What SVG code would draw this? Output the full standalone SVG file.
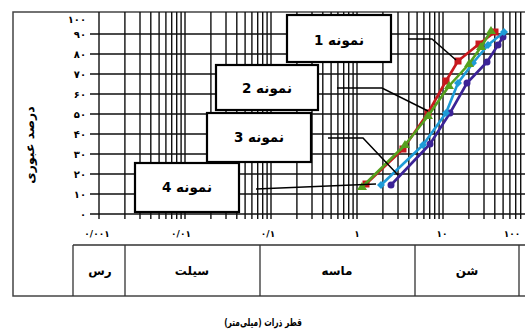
<svg xmlns="http://www.w3.org/2000/svg" width="525" height="331" viewBox="0 0 525 331">
<style>
.grid{stroke:#111;stroke-width:1.4;fill:none}
.frame{stroke:#444;stroke-width:1.5;fill:none}
.tbl{stroke:#333;stroke-width:1.3;fill:none}
.box{fill:#fff;stroke:#000;stroke-width:2.2}
.lead{stroke:#000;stroke-width:1.5;fill:none}
.t{font-family:"DejaVu Sans",sans-serif;font-weight:bold;fill:#000}
.yl{font-size:10px;text-anchor:end}
.xl{font-size:9px;text-anchor:middle}
.bl{font-size:13.5px;text-anchor:middle}
.cl{font-size:12px;text-anchor:middle}
.s{fill:none;stroke-width:2.6;stroke-linejoin:round}
</style>
<rect width="525" height="331" fill="#fff"/>
<rect class="frame" x="13" y="12" width="530" height="284"/>
<g id="grid">
<path class="grid" d="M99 12V219M124.9 12V219M140 12V219M150.8 12V219M159.1 12V219M165.9 12V219M171.7 12V219M176.7 12V219M181.1 12V219
M185 12V219M210.9 12V219M226 12V219M236.8 12V219M245.1 12V219M251.9 12V219M257.7 12V219M262.7 12V219M267.1 12V219
M271 12V219M296.9 12V219M312 12V219M322.8 12V219M331.1 12V219M337.9 12V219M343.7 12V219M348.7 12V219M353.1 12V219
M357 12V219M382.9 12V219M398 12V219M408.8 12V219M417.1 12V219M423.9 12V219M429.7 12V219M434.7 12V219M439.1 12V219
M443 12V219M468.9 12V219M484 12V219M494.8 12V219M503.1 12V219M509.9 12V219M515.7 12V219M520.7 12V219"/>
<path class="grid" d="M90 214H525M90 194H525M90 174H525M90 154H525M90 134H525M90 114H525M90 94H525M90 74H525M90 54H525M90 34H525"/>
</g>
<g id="yticks" class="t yl">
<text x="86" y="23">۱۰۰</text>
<text x="86" y="38">۹۰</text>
<text x="86" y="58">۸۰</text>
<text x="86" y="78">۷۰</text>
<text x="86" y="98">۶۰</text>
<text x="86" y="118">۵۰</text>
<text x="86" y="138">۴۰</text>
<text x="86" y="158">۳۰</text>
<text x="86" y="178">۲۰</text>
<text x="86" y="198">۱۰</text>
<text x="86" y="218">۰</text>
</g>
<g id="xticks" class="t xl">
<text x="97" y="237">۰/۰۰۱</text>
<text x="181" y="237">۰/۰۱</text>
<text x="268" y="237">۰/۱</text>
<text x="357" y="237">۱</text>
<text x="442" y="237">۱۰</text>
<text x="512" y="237">۱۰۰</text>
</g>
<text class="t" font-size="12.5" text-anchor="middle" transform="translate(34 145) rotate(-90)">درصد عبوری</text>
<g id="table">
<path class="tbl" d="M73 245H525M73 245V296M125 245V296M260 245V296M415 245V296M519 245V296"/>
<text class="t cl" x="100" y="275">رس</text>
<text class="t cl" x="192" y="275">سیلت</text>
<text class="t cl" x="337" y="275">ماسه</text>
<text class="t cl" x="467" y="275">شن</text>
</g>
<text class="t" font-size="11" text-anchor="middle" direction="rtl" transform="translate(263 326) scale(0.68 1)">قطر ذرات (میلی‌متر)</text>
<g id="series">
<g id="s4">
<polyline class="s" stroke="#3b2396" points="391,185 430,144 450,113 467,83 487,62 498,45 503,37"/>
<g fill="#3b2396"><circle cx="391" cy="185" r="3.5"/><circle cx="430" cy="144" r="3.5"/><circle cx="450" cy="113" r="3.5"/><circle cx="467" cy="83" r="3.5"/><circle cx="487" cy="62" r="3.5"/><circle cx="498" cy="45" r="3.5"/><circle cx="503" cy="37" r="3.5"/></g>
</g>
<g id="s3">
<polyline class="s" stroke="#1e9bd7" points="381,185 423,145 446,113 458,83 473,63 488,45 504,32"/>
<g fill="#1e9bd7"><path d="M381 181l4 4-4 4-4-4z"/><path d="M423 141l4 4-4 4-4-4z"/><path d="M446 109l4 4-4 4-4-4z"/><path d="M458 79l4 4-4 4-4-4z"/><path d="M473 59l4 4-4 4-4-4z"/><path d="M488 41l4 4-4 4-4-4z"/><path d="M504 28l4 4-4 4-4-4z"/></g>
</g>
<g id="s1">
<polyline class="s" stroke="#c8191e" points="366,184 403,149 428,113 446,81 458,61 479,44 495,32"/>
<g fill="#c8191e"><rect x="362.5" y="180.5" width="7" height="7"/><rect x="399.5" y="145.5" width="7" height="7"/><rect x="424.5" y="109.5" width="7" height="7"/><rect x="442.5" y="77.5" width="7" height="7"/><rect x="454.5" y="57.5" width="7" height="7"/><rect x="475.5" y="40.5" width="7" height="7"/><rect x="491.5" y="28.5" width="7" height="7"/></g>
</g>
<g id="s2">
<polyline class="s" stroke="#55a01e" points="362,187 405,145 428,116 449,86 469,64 481,47 491,31"/>
<g fill="#55a01e"><path d="M362 182l5 8h-10z"/><path d="M405 140l5 8h-10z"/><path d="M428 111l5 8h-10z"/><path d="M449 81l5 8h-10z"/><path d="M469 59l5 8h-10z"/><path d="M481 42l5 8h-10z"/><path d="M491 26l5 8h-10z"/></g>
</g>
</g>
<g id="connectors">
<polyline class="lead" points="408,39 432,39 456,60"/>
<polyline class="lead" points="337,88 382,88 428,111"/>
<polyline class="lead" points="328,138 363,138 398,175"/>
<polyline class="lead" points="256,189 376,184"/>
</g>
<g id="label1"><rect class="box" x="287" y="15" width="104" height="47"/><text class="t bl" x="339" y="45">نمونه 1</text></g>
<g id="label2"><rect class="box" x="216" y="65" width="102" height="45"/><text class="t bl" x="267" y="93">نمونه 2</text></g>
<g id="label3"><rect class="box" x="207" y="113" width="104" height="49"/><text class="t bl" x="259" y="142">نمونه 3</text></g>
<g id="label4"><rect class="box" x="135" y="163" width="104" height="49"/><text class="t bl" x="187" y="192">نمونه 4</text></g>
</svg>
